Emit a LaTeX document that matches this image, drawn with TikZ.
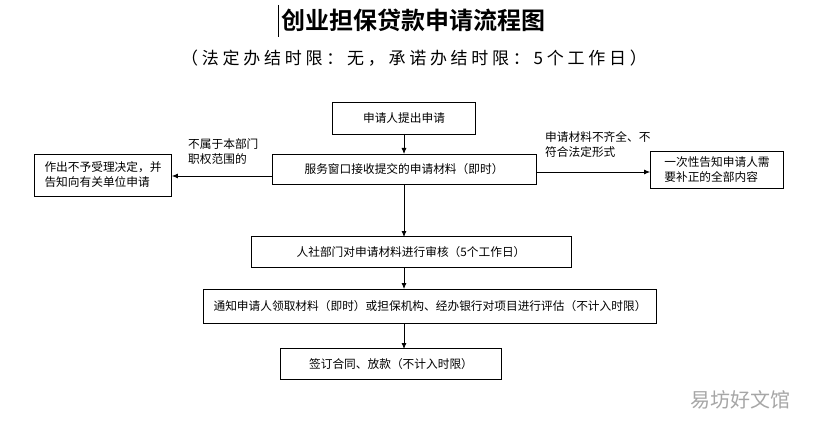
\documentclass[tikz,border=0pt]{standalone}
\usepackage{fontspec}
\setmainfont{Noto Sans CJK SC}
\newfontfamily\cjkb{Noto Sans CJK SC Bold}
\newfontfamily\cjkw[LetterSpace=22]{Noto Sans CJK SC}
\usetikzlibrary{arrows.meta}
\begin{document}
\begin{tikzpicture}[x=1pt,y=-1pt,
  box/.style={draw,thick,inner sep=0pt,font=\fontsize{11.7}{15}\selectfont,align=left},
  arr/.style={thick,-{Latex[length=6pt,width=5pt]}},
  lbl/.style={font=\fontsize{11.7}{15}\selectfont,align=left,inner sep=0pt}]
\useasboundingbox (0,0) rectangle (822,433);
\node[font=\cjkb\fontsize{24}{28}\selectfont] (t) at (413,20) {创业担保贷款申请流程图};
\draw[thick] (278,5) -- (278,37);
\node[font=\cjkw\fontsize{17}{20}\selectfont] (st) at (414,58) {（法定办结时限：无，承诺办结时限：5个工作日）};
\node[box,minimum width=143pt,minimum height=32pt,align=center] (b1) at (404,118) {申请人提出申请};
\node[box,minimum width=264pt,minimum height=30pt,align=center] (b2) at (404,169) {服务窗口接收提交的申请材料（即时）};
\node[box,minimum width=137pt,minimum height=42pt] (l) at (103,175) {作出不予受理决定，并\\告知向有关单位申请};
\node[box,minimum width=133pt,minimum height=37pt] (r) at (717,170) {一次性告知申请人需\\要补正的全部内容};
\node[box,minimum width=320pt,minimum height=31pt,align=center] (b3) at (411,252) {人社部门对申请材料进行审核（5个工作日）};
\node[box,minimum width=453pt,minimum height=34pt,align=center] (b4) at (430,306) {通知申请人领取材料（即时）或担保机构、经办银行对项目进行评估（不计入时限）};
\node[box,minimum width=221pt,minimum height=31pt,align=center] (b5) at (391,364) {签订合同、放款（不计入时限）};
\draw[arr] (404,134) -- (404,154);
\draw[arr] (404,184) -- (404,237);
\draw[arr] (404,268) -- (404,289);
\draw[arr] (404,323) -- (404,349);
\draw[arr] (b2.west |- 0,176) -- (l.east |- 0,176);
\draw[arr] (b2.east |- 0,172) -- (r.west |- 0,172);
\node[lbl,anchor=north west] (la) at (188,138) {不属于本部门\\职权范围的};
\node[lbl,anchor=north west] (ra) at (545,131) {申请材料不齐全、不\\符合法定形式};
\node[font=\fontsize{20}{22}\selectfont,text=gray!70] (w) at (740,400) {易坊好文馆};
\end{tikzpicture}
\end{document}
